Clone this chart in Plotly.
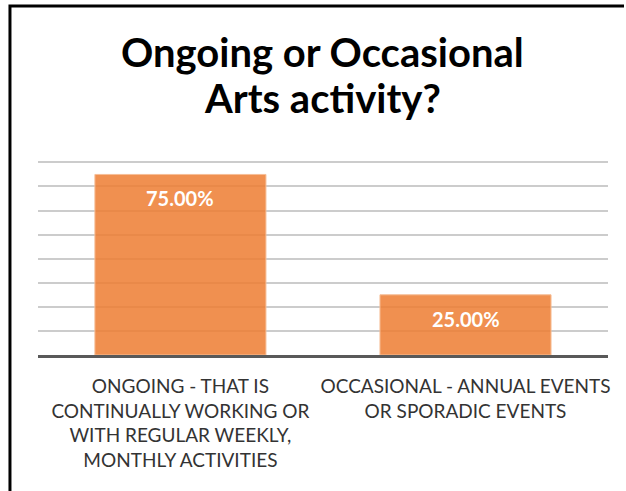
import plotly.graph_objects as go

categories = [
    "ONGOING - THAT IS<br>CONTINUALLY WORKING OR<br>WITH REGULAR WEEKLY,<br>MONTHLY ACTIVITIES",
    "OCCASIONAL - ANNUAL EVENTS<br>OR SPORADIC EVENTS",
]
values = [75.0, 25.0]
labels = ["75.00%", "25.00%"]
title_lines = ["Ongoing or Occasional", "Arts activity?"]

W, H = 626, 491
PL, PR, PT, PB = 38, 610, 160, 355  # plot area in pixels

fig = go.Figure()
fig.add_trace(go.Bar(
    x=categories, y=values,
    width=0.6,
    marker=dict(color="rgba(237,125,49,0.85)", line=dict(color="rgba(246,190,150,1)", width=1)),
    hoverinfo="skip",
))

# frame (left and top border) on a full-page pixel overlay axis
fig.add_trace(go.Scatter(
    x=[10, 10, W + 10], y=[H + 10, 6, 6],
    xaxis="x2", yaxis="y2", mode="lines",
    line=dict(color="black", width=3), hoverinfo="skip",
))

for c, v, t in zip(categories, values, labels):
    fig.add_annotation(x=c, y=v, xref="x", yref="y", text="<b>" + t + "</b>", showarrow=False,
                       yanchor="middle", yshift=-24,
                       font=dict(family="Lato", size=20, color="white"))

for line, ypix in zip(title_lines, [52, 98]):
    fig.add_annotation(x=(PL + PR) / 2 / W, xref="paper", y=1 - ypix / H, yref="paper",
                       text="<b>" + line + "</b>", showarrow=False,
                       xanchor="center", yanchor="middle",
                       font=dict(family="Lato", size=40, color="black"))

fig.update_layout(
    width=W, height=H,
    margin=dict(l=0, r=0, t=0, b=0),
    paper_bgcolor="white", plot_bgcolor="rgba(0,0,0,0)",
    showlegend=False,
    xaxis=dict(domain=[PL / W, PR / W], anchor="y",
               showline=True, linecolor="#595959", linewidth=3, ticks="",
               tickfont=dict(family="Lato", size=19, color="#333333"),
               ticklabelstandoff=12, showgrid=False),
    yaxis=dict(domain=[1 - PB / H, 1 - PT / H], anchor="x",
               range=[0, 81], dtick=10, showticklabels=False, showgrid=True,
               gridcolor="#cccccc", gridwidth=1.5, zeroline=False, ticks=""),
    xaxis2=dict(domain=[0, 1], anchor="y2", range=[0, W], visible=False, fixedrange=True),
    yaxis2=dict(domain=[0, 1], anchor="x2", range=[H, 0], visible=False, fixedrange=True),
)

fig.write_html("out.html", config={"displayModeBar": False},
               post_script="document.body.style.margin='0';document.body.style.overflow='hidden';document.documentElement.style.overflow='hidden';")
